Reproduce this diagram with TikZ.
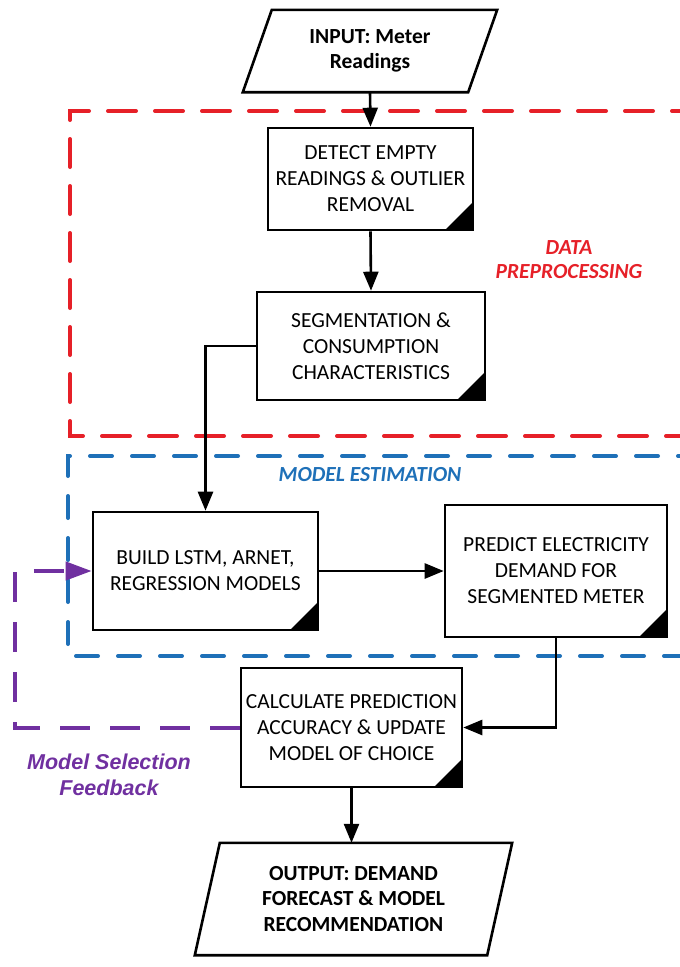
\documentclass[tikz,border=0pt]{standalone}
\usepackage{fontspec}
\setmainfont{Carlito}
\newfontfamily\arialfont{Liberation Sans}
\usetikzlibrary{arrows.meta,calc}
\definecolor{dpred}{RGB}{230,32,40}
\definecolor{meblue}{RGB}{30,112,184}
\definecolor{fbpurple}{RGB}{112,48,160}
\begin{document}
\begin{tikzpicture}[x=1pt,y=-1pt,
  box/.style={draw, line width=2.6pt, align=center, inner sep=0pt,
    font=\fontsize{21.5}{26}\selectfont,
    path picture={\fill[black] (path picture bounding box.south east) -- ++(-28pt,0pt) -- ++(28pt,28pt) -- cycle;}},
  iotext/.style={align=center, inner sep=0pt, font=\bfseries\fontsize{21.5}{25.5}\selectfont},
  ioshape/.style={line width=2.6pt, line join=miter},
  flow/.style={line width=2.6pt, -{Triangle[length=19pt,width=15pt]}},
  grpline/.style={line width=4pt, line cap=round},
  grplabel/.style={align=center, inner sep=0pt, font=\bfseries\itshape\fontsize{21.5}{24}\selectfont}]
\useasboundingbox (0,0) rectangle (680,967);
\clip (0,0) rectangle (680,967);
% group outlines
\draw[grpline, dpred, dash pattern=on 28pt off 19pt] (700,111) -- (70,111) -- (70,436) -- (700,436);
\draw[grpline, meblue, dash pattern=on 22pt off 20pt] (700,456) -- (68,456) -- (68,656) -- (700,656);
% input
\node[iotext, minimum width=225pt, minimum height=82pt] (in) at (370,51) {INPUT: Meter\\Readings};
\draw[ioshape] ([xshift=14.5pt]in.north west) -- ([xshift=14.5pt]in.north east) -- ([xshift=-14.5pt]in.south east) -- ([xshift=-14.5pt]in.south west) -- cycle;
% boxes
\node[box, minimum width=205pt, minimum height=102pt] (detect) at (370.5,179) {DETECT EMPTY\\READINGS \& OUTLIER\\REMOVAL};
\node[box, minimum width=228pt, minimum height=108pt] (seg) at (371,346) {SEGMENTATION \&\\CONSUMPTION\\CHARACTERISTICS};
\node[box, minimum width=225pt, minimum height=118pt] (build) at (205.5,571) {BUILD LSTM, ARNET,\\REGRESSION MODELS};
\node[box, minimum width=222pt, minimum height=132pt] (pred) at (556,571) {PREDICT ELECTRICITY\\DEMAND FOR\\SEGMENTED METER};
\node[box, minimum width=221pt, minimum height=119pt] (calc) at (351.5,727.5) {CALCULATE PREDICTION\\ACCURACY \& UPDATE\\MODEL OF CHOICE};
% output
\node[iotext, minimum width=292pt, minimum height=112pt] (out) at (353.5,899) {OUTPUT: DEMAND\\FORECAST \& MODEL\\RECOMMENDATION};
\draw[ioshape] ([xshift=12.5pt]out.north west) -- ([xshift=12.5pt]out.north east) -- ([xshift=-12.5pt]out.south east) -- ([xshift=-12.5pt]out.south west) -- cycle;
% labels
\node[grplabel, text=dpred] (dplab) at (569,260) {DATA\\PREPROCESSING};
\node[grplabel, text=meblue] (melab) at (370,475) {MODEL ESTIMATION};
\node[align=center, inner sep=0pt, text=fbpurple, font=\arialfont\bfseries\itshape\fontsize{21.5}{25.5}\selectfont] (fblab) at (109,775) {Model Selection\\Feedback};
% connectors
\draw[flow] (in.south) -- (detect.north);
\draw[flow] (detect.south) -- (seg.north);
\draw[flow] (seg.west) -| (build.north);
\draw[flow] (build.east) -- (pred.west);
\draw[flow] (pred.south) |- (calc.east);
\draw[flow] (calc.south) -- (calc.south |- out.north);
\coordinate (fbx) at (15,0);
\draw[line width=4pt, fbpurple, dash pattern=on 30pt off 20pt, -{Triangle[length=26pt,width=18pt]}] (calc.west) -- (calc.west -| fbx) -- (build.west -| fbx) -- (build.west);
\end{tikzpicture}
\end{document}
